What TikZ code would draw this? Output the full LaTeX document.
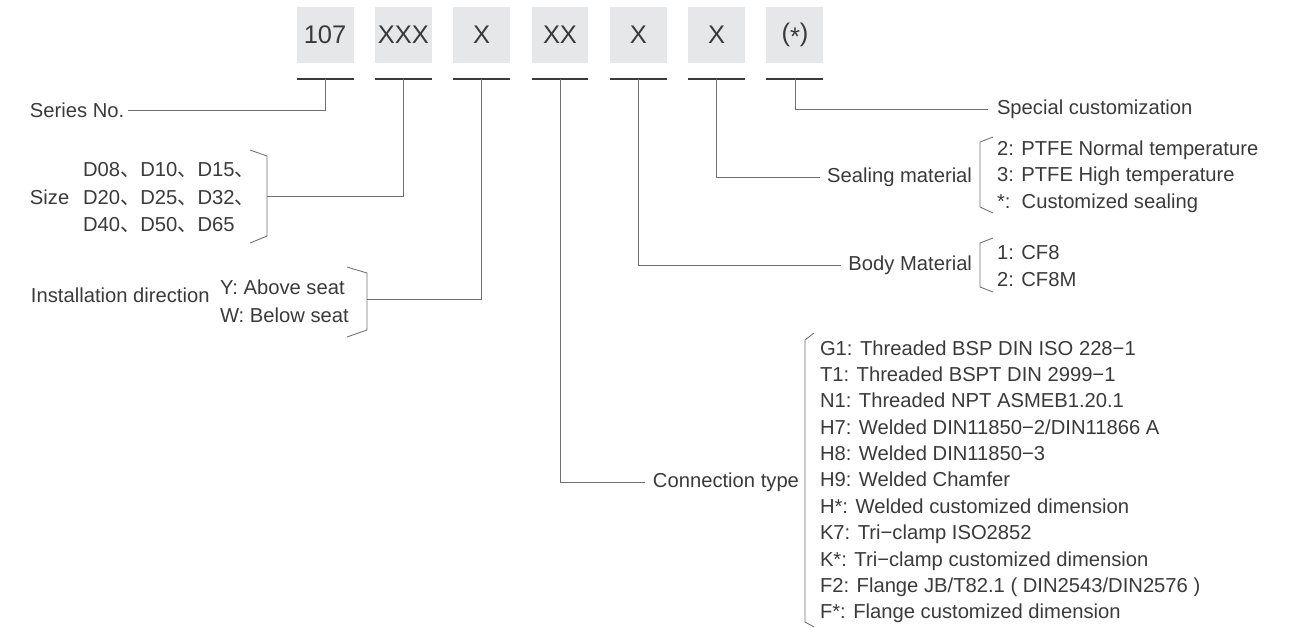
\documentclass[tikz,border=0pt]{standalone}
\usepackage{fontspec}
\setmainfont{Liberation Sans}
\newfontfamily\cjk{Noto Sans CJK SC}
\definecolor{inkgray}{HTML}{3A3A3A}
\definecolor{boxgray}{HTML}{E6E7E8}
\definecolor{wiregray}{HTML}{707070}
\begin{document}
\begin{tikzpicture}[x=0.02cm, y=-0.02cm, font=\fontsize{11.5}{15}\selectfont, text=inkgray,
        every node/.style={inner sep=0pt, outer sep=0pt},
        codebox/.style={fill=boxgray, minimum width=1.14cm, minimum height=1.12cm, font=\fontsize{14.5}{17}\selectfont},
        uline/.style={draw=inkgray, line width=1.5pt},
        link/.style={draw=wiregray, line width=0.5pt},
        brack/.style={draw=wiregray, line width=0.5pt, line join=miter},
        optlist/.style={anchor=west, align=left}]
    \useasboundingbox (0,0) rectangle (1290,627);
    \foreach \t [count=\i] in {107,XXX,X,XX,X,X,{(\raisebox{-0.3ex}{*})}} {
        \node[codebox] (b\i) at ({325+(\i-1)*78.33},35) {\t};
        \coordinate (u\i) at ({325+(\i-1)*78.33},79);
        \draw[uline] (b\i.south west |- u\i) -- (b\i.south east |- u\i);
    }
    \node[anchor=west] (series) at (30,110) {Series No.};
    \draw[link, shorten <=2pt] (series.east) -| (u1);
    \node[anchor=west] (size) at (30,197) {Size};
    \node[optlist, font=\fontsize{11.5}{15.6}\selectfont] (sizeopts) at (83,197.5)
        {D08{\cjk 、}D10{\cjk 、}D15{\cjk 、}\\D20{\cjk 、}D25{\cjk 、}D32{\cjk 、}\\D40{\cjk 、}D50{\cjk 、}D65};
    \draw[brack] (250,150) -- (267,156) -- (267,236) -- (250,243);
    \coordinate (sizebr) at (267,196);
    \draw[link] (sizebr) -| (u2);
    \node[anchor=west] (install) at (31,295) {Installation direction};
    \node[optlist, font=\fontsize{11.5}{15.9}\selectfont] (installopts) at (220,301) {Y: Above seat\\W: Below seat};
    \draw[brack] (347,267) -- (367,273) -- (367,330) -- (347,337);
    \coordinate (installbr) at (367,299);
    \draw[link] (installbr) -| (u3);
    \node[anchor=east] (conn) at (799,482) {Connection type};
    \draw[link, shorten >=4.5pt] (u4) |- (conn.west);
    \node[optlist] (connopts) at (820,481.7) {G1: Threaded BSP DIN ISO 228−1\\T1: Threaded BSPT DIN 2999−1\\N1: Threaded NPT ASMEB1.20.1\\H7: Welded DIN11850−2/DIN11866 A\\H8: Welded DIN11850−3\\H9: Welded Chamfer\\H*: Welded customized dimension\\K7: Tri−clamp ISO2852\\K*: Tri−clamp customized dimension\\F2: Flange JB/T82.1 ( DIN2543/DIN2576 )\\F*: Flange customized dimension};
    \draw[brack] (814,333) -- (805,340) -- (805,622) -- (814,627);
    \node[anchor=east] (body) at (972,265) {Body Material};
    \draw[link, shorten >=4pt] (u5) |- (body.west);
    \node[optlist, font=\fontsize{11.5}{15.1}\selectfont] (bodyopts) at (997,266) {1: CF8\\2: CF8M};
    \draw[brack] (993,238) -- (980,243) -- (980,287) -- (993,292);
    \node[anchor=east] (seal) at (972,177) {Sealing material};
    \draw[link, shorten >=4pt] (u6) |- (seal.west);
    \node[optlist] (sealopts) at (997,176.5) {2: PTFE Normal temperature\\3: PTFE High temperature\\*:\ \ Customized sealing};
    \draw[brack] (993,137) -- (980,142) -- (980,207) -- (993,213);
    \node[anchor=west] (special) at (997,109) {Special customization};
    \draw[link, shorten >=5pt] (u7) |- (special.west);
\end{tikzpicture}
\end{document}
